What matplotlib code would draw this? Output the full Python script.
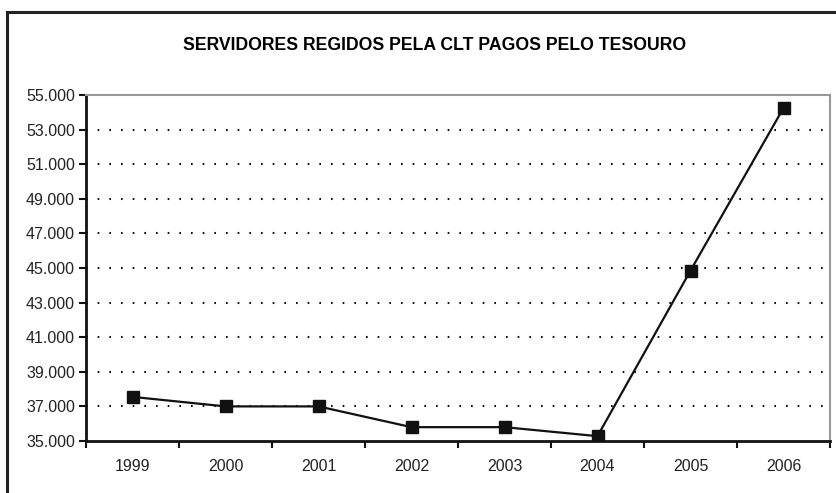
import matplotlib.pyplot as plt
import matplotlib.ticker as mticker
from matplotlib.patches import Rectangle

years = ["1999", "2000", "2001", "2002", "2003", "2004", "2005", "2006"]
servidores = [37550, 37000, 37000, 35800, 35800, 35280, 44850, 54250]
y_ticks = list(range(35000, 55001, 2000))

plt.rcParams["font.family"] = ["Liberation Sans", "DejaVu Sans"]

fig = plt.figure(figsize=(8.36, 4.93), dpi=100)
fig.patches.append(Rectangle((7 / 836, -0.1), 1.2, (493 - 12) / 493 + 0.1,
                             transform=fig.transFigure, fill=False,
                             edgecolor="#222222", linewidth=2.2))
ax = fig.add_axes([86 / 836, 1 - 441 / 493, (830 - 86) / 836, (441 - 95) / 493])

xpos = [i + 0.5 for i in range(len(years))]
ax.plot(xpos, servidores, color="#111111", linewidth=1.6,
        marker="s", markersize=9, markerfacecolor="#111111",
        markeredgecolor="#111111", zorder=3)

ax.set_xlim(0, len(years))
ax.set_ylim(35000, 55000)
ax.set_yticks(y_ticks)
ax.yaxis.set_major_formatter(mticker.FuncFormatter(lambda v, p: f"{int(v):,}".replace(",", ".")))
for y in y_ticks[1:-1]:
    ax.axhline(y, color="#111111", linewidth=1.5, linestyle=(0, (0.8, 4.8)), zorder=1)

ax.set_xticks(range(len(years) + 1))
ax.set_xticklabels([])
ax.set_xticks(xpos, minor=True)
ax.set_xticklabels(years, minor=True)
ax.tick_params(axis="x", which="minor", length=0, pad=13, labelsize=11.5, labelcolor="#222222")
ax.tick_params(axis="x", which="major", direction="out", length=5, width=1.5, color="#111111")
ax.tick_params(axis="y", direction="out", length=5, width=1.5, color="#111111",
               labelsize=11.5, pad=3, labelcolor="#222222")

for s in ["left", "bottom"]:
    ax.spines[s].set_linewidth(2)
    ax.spines[s].set_color("#111111")
for s in ["top", "right"]:
    ax.spines[s].set_linewidth(1.5)
    ax.spines[s].set_color("#999999")

fig.text(435 / 836, 1 - 45 / 493, "SERVIDORES REGIDOS PELA CLT PAGOS PELO TESOURO",
         ha="center", va="center", fontsize=12.7, fontweight="bold")

fig.savefig("out.png", dpi=100)
